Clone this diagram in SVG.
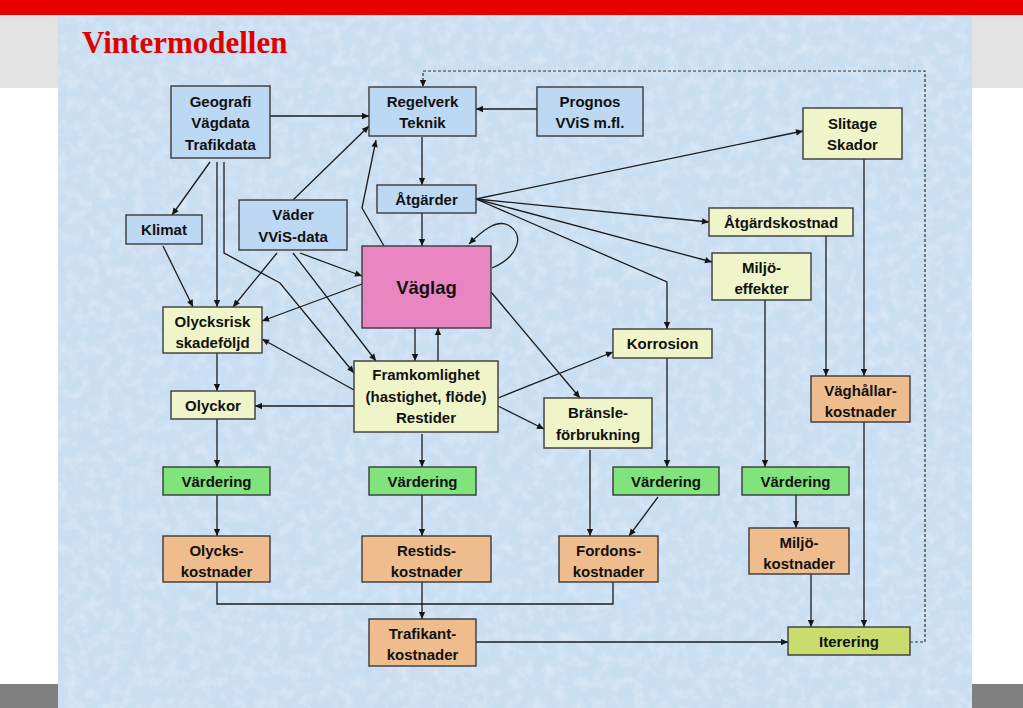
<svg xmlns="http://www.w3.org/2000/svg" width="1023" height="708" viewBox="0 0 1023 708">
<defs>
<marker id="a" viewBox="0 0 10 10" refX="10" refY="5" markerWidth="8" markerHeight="7" markerUnits="userSpaceOnUse" orient="auto"><path d="M0,0.5 L10,5 L0,9.5 z" fill="#151515"/></marker>
<filter id="tex" x="0" y="0" width="100%" height="100%"><feTurbulence type="fractalNoise" baseFrequency="0.09" numOctaves="3" seed="7"/><feColorMatrix type="matrix" values="0 0 0 0 1  0 0 0 0 1  0 0 0 0 1  0 0 0 1.5 -0.65"/></filter>
<style>
.n rect{stroke:#3a3a3a;stroke-width:1.4}
.n text{font-family:"Liberation Sans",Arial,sans-serif;font-weight:bold;font-size:15px;fill:#111;text-anchor:middle}
.bl{fill:#bcd8f3}.ye{fill:#eff5c9}.gr{fill:#80e37c}.or{fill:#efbd8d}.pk{fill:#e985c1}.it{fill:#cadc6e}
#conn path{fill:none;stroke:#1c1c1c;stroke-width:1.3}
#conn .ar{marker-end:url(#a)}
#conn .da{stroke:#333;stroke-width:1.2;stroke-dasharray:3 2}
</style>
</defs>
<rect x="0" y="0" width="1023" height="708" fill="#ffffff"/>
<rect x="0" y="15" width="1023" height="73" fill="#e3e3e3"/>
<rect x="0" y="684" width="1023" height="24" fill="#808080"/>
<rect x="0" y="0" width="1023" height="15" fill="#e60000"/>
<rect x="58" y="15" width="914" height="693" fill="#cadef2"/>
<rect x="58" y="15" width="914" height="693" filter="url(#tex)" opacity="0.45"/>
<text x="82" y="53" font-family="'Liberation Serif','Times New Roman',serif" font-weight="bold" font-size="31" fill="#e00000">Vintermodellen</text>

<g id="conn">
<path class="ar" d="M270,116 H369"/>
<path class="ar" d="M537,109 H476"/>
<path class="ar" d="M293,200 L369,126"/>
<path class="ar" d="M384,246 L362,208 L376,140"/>
<path class="ar" d="M422,137 V185"/>
<path class="ar" d="M422,213 V246"/>
<path class="ar" d="M492,268 C516,258 527,236 508,225 C496,219 481,232 469,244"/>
<path class="ar" d="M210,162 L172,215"/>
<path class="ar" d="M217,162 V307"/>
<path class="ar" d="M224,162 V253 L280,283 L354,373"/>
<path class="ar" d="M293,253 L376,361"/>
<path class="ar" d="M163,246 L193,307"/>
<path class="ar" d="M277,253 L233,307"/>
<path class="ar" d="M300,253 L362,276"/>
<path class="ar" d="M362,284 L262,321"/>
<path class="ar" d="M354,390 L262,339"/>
<path class="ar" d="M415,328 V361"/>
<path class="ar" d="M438,361 V328"/>
<path class="ar" d="M217,353 V391"/>
<path class="ar" d="M354,406 H255"/>
<path class="ar" d="M217,419 V467"/>
<path class="ar" d="M217,495 V536"/>
<path class="ar" d="M422,434 V467"/>
<path class="ar" d="M422,495 V536"/>
<path class="ar" d="M498,398 L613,352"/>
<path class="ar" d="M498,406 L544,429"/>
<path class="ar" d="M491,292 L580,398"/>
<path class="ar" d="M476,199 L803,131"/>
<path class="ar" d="M476,199 L709,222"/>
<path class="ar" d="M476,199 L712,262"/>
<path class="ar" d="M476,199 L667,282 V329"/>
<path class="ar" d="M667,358 V467"/>
<path class="ar" d="M590,450 V536"/>
<path class="ar" d="M658,497 L629,536"/>
<path class="ar" d="M765,300 V467"/>
<path class="ar" d="M796,495 V528"/>
<path class="ar" d="M826,236 V376"/>
<path class="ar" d="M864,159 V376"/>
<path class="ar" d="M864,422 V627"/>
<path class="ar" d="M811,574 V627"/>
<path d="M217,582 V604 H613 V582"/>
<path class="ar" d="M422,582 V619"/>
<path class="ar" d="M476,642 H788"/>
<path class="ar da" d="M910,642 H925 V71 H423 V87"/>
</g>

<g id="geografi" class="n"><rect class="bl" x="171" y="86" width="99" height="72"/><text x="220.5" y="107">Geografi</text><text x="220.5" y="128">Vägdata</text><text x="220.5" y="150">Trafikdata</text></g>
<g id="regelverk" class="n"><rect class="bl" x="369" y="87" width="107" height="49"/><text x="422.5" y="107">Regelverk</text><text x="422.5" y="128">Teknik</text></g>
<g id="prognos" class="n"><rect class="bl" x="537" y="87" width="106" height="49"/><text x="590" y="107">Prognos</text><text x="590" y="128">VViS m.fl.</text></g>
<g id="slitage" class="n"><rect class="ye" x="803" y="108" width="99" height="51"/><text x="852.5" y="129">Slitage</text><text x="852.5" y="150">Skador</text></g>
<g id="atgarder" class="n"><rect class="bl" x="377" y="185" width="99" height="28"/><text x="426.5" y="204.5">Åtgärder</text></g>
<g id="klimat" class="n"><rect class="bl" x="126" y="215" width="76" height="29"/><text x="164" y="235">Klimat</text></g>
<g id="vader" class="n"><rect class="bl" x="239" y="200" width="108" height="50"/><text x="293" y="220">Väder</text><text x="293" y="242">VViS-data</text></g>
<g id="atgardskostnad" class="n"><rect class="ye" x="709" y="208" width="144" height="28"/><text x="781" y="227.5">Åtgärdskostnad</text></g>
<g id="miljoeffekter" class="n"><rect class="ye" x="712" y="253" width="99" height="47"/><text x="761.5" y="273">Miljö-</text><text x="761.5" y="294">effekter</text></g>
<g id="vaglag" class="n"><rect class="pk" x="362" y="246" width="129" height="82"/><text x="426.5" y="294" style="font-size:18.5px">Väglag</text></g>
<g id="olycksrisk" class="n"><rect class="ye" x="163" y="307" width="99" height="46"/><text x="212.5" y="327">Olycksrisk</text><text x="212.5" y="348">skadeföljd</text></g>
<g id="korrosion" class="n"><rect class="ye" x="613" y="329" width="99" height="29"/><text x="662.5" y="349">Korrosion</text></g>
<g id="framkomlighet" class="n"><rect class="ye" x="354" y="361" width="144" height="71"/><text x="426" y="380">Framkomlighet</text><text x="426" y="402">(hastighet, flöde)</text><text x="426" y="423">Restider</text></g>
<g id="vaghallar" class="n"><rect class="or" x="811" y="376" width="99" height="46"/><text x="860.5" y="396">Väghållar-</text><text x="860.5" y="417">kostnader</text></g>
<g id="olyckor" class="n"><rect class="ye" x="171" y="391" width="84" height="28"/><text x="213" y="410.5">Olyckor</text></g>
<g id="bransle" class="n"><rect class="ye" x="544" y="398" width="108" height="50"/><text x="598" y="418">Bränsle-</text><text x="598" y="440">förbrukning</text></g>
<g id="vardering1" class="n"><rect class="gr" x="163" y="467" width="107" height="28"/><text x="216.5" y="486.5">Värdering</text></g>
<g id="vardering2" class="n"><rect class="gr" x="369" y="467" width="107" height="28"/><text x="422.5" y="486.5">Värdering</text></g>
<g id="vardering3" class="n"><rect class="gr" x="613" y="467" width="106" height="28"/><text x="666" y="486.5">Värdering</text></g>
<g id="vardering4" class="n"><rect class="gr" x="742" y="467" width="107" height="28"/><text x="795.5" y="486.5">Värdering</text></g>
<g id="olyckskostnader" class="n"><rect class="or" x="163" y="536" width="107" height="46"/><text x="216.5" y="556">Olycks-</text><text x="216.5" y="577">kostnader</text></g>
<g id="restidskostnader" class="n"><rect class="or" x="362" y="536" width="129" height="46"/><text x="426.5" y="556">Restids-</text><text x="426.5" y="577">kostnader</text></g>
<g id="fordonskostnader" class="n"><rect class="or" x="559" y="536" width="99" height="46"/><text x="608.5" y="556">Fordons-</text><text x="608.5" y="577">kostnader</text></g>
<g id="miljokostnader" class="n"><rect class="or" x="749" y="528" width="100" height="46"/><text x="799" y="548">Miljö-</text><text x="799" y="569">kostnader</text></g>
<g id="trafikantkostnader" class="n"><rect class="or" x="369" y="619" width="107" height="47"/><text x="422.5" y="639">Trafikant-</text><text x="422.5" y="660">kostnader</text></g>
<g id="iterering" class="n"><rect class="it" x="788" y="627" width="122" height="28"/><text x="849" y="646.5">Iterering</text></g>
</svg>
